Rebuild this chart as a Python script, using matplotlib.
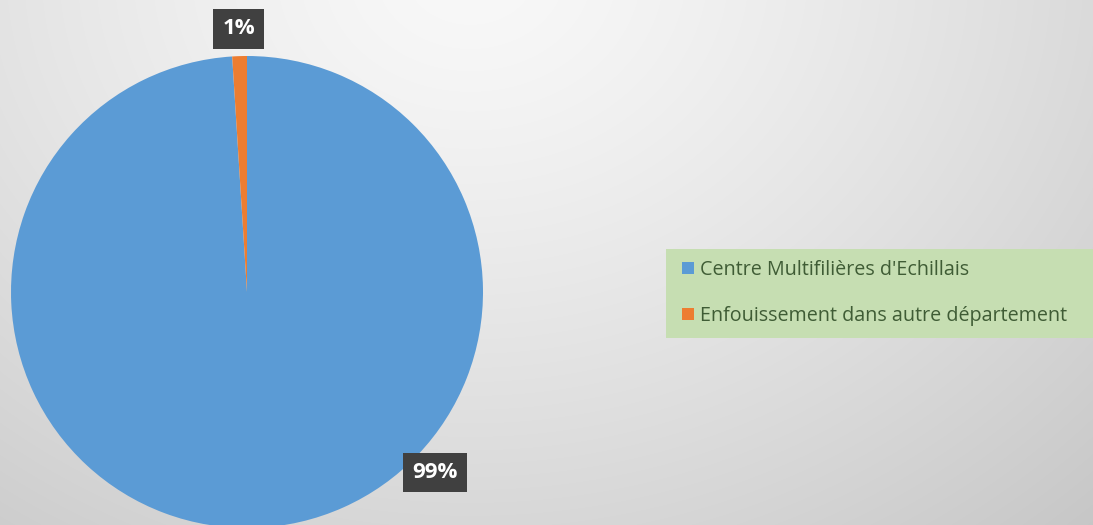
import numpy as np
import matplotlib.pyplot as plt
from matplotlib.patches import Rectangle

labels = ["Centre Multifilières d'Echillais", "Enfouissement dans autre département"]
values = [99, 1]
pct_text = ["99%", "1%"]
colors = ["#5b9bd5", "#ed7d31"]

W, H = 1093, 525
fig = plt.figure(figsize=(W / 100, H / 100), dpi=100)

# radial gray background
bg = fig.add_axes([0, 0, 1, 1])
yy, xx = np.mgrid[0:H, 0:W]
d = np.sqrt(((xx - 470.0) * 0.95) ** 2 + ((yy + 30.0) * 1.15) ** 2)
v = 0.975 - 0.19 * (d / 850.0) ** 1.3
bg.imshow(np.dstack([v, v, v]).clip(0, 1), extent=[0, W, H, 0], aspect="auto")
bg.set_xlim(0, W)
bg.set_ylim(H, 0)
bg.axis("off")

# pie, centre (247, 292) px, radius 236 px
r = 236
cx, cy = 247, 292
ax = fig.add_axes([(cx - r) / W, (H - cy - r) / H, 2 * r / W, 2 * r / H])
wedges, _ = ax.pie(values, colors=colors, startangle=90, counterclock=False,
                   radius=1, wedgeprops=dict(linewidth=0))
ax.set_xlim(-1, 1)
ax.set_ylim(-1, 1)
ax.set_aspect("equal")
ax.axis("off")

# data labels
box = dict(boxstyle="square,pad=0.42", facecolor="#404040", edgecolor="none")
mid = np.deg2rad(90 + 360 * values[1] / sum(values) / 2)
ax.text(1.115 * np.cos(mid), 1.115 * np.sin(mid), pct_text[1], color="white",
        fontsize=16, fontweight="bold", family="Open Sans",
        ha="center", va="center", bbox=box, clip_on=False)
ax.text(0.795, -0.765, pct_text[0], color="white",
        fontsize=16, fontweight="bold", family="Open Sans",
        ha="center", va="center", bbox=box, clip_on=False)

# legend panel
fig.patches.append(Rectangle((666 / W, (H - 338) / H), (W - 666) / W, 89 / H,
                             transform=fig.transFigure, facecolor="#c6deb2",
                             edgecolor="none", zorder=1))
leg = fig.legend(wedges, labels, loc="center left",
                 bbox_to_anchor=(664 / W, (H - 293) / H), frameon=False,
                 prop=dict(family="Open Sans", size=14.2),
                 labelcolor="#3f5c35", handlelength=0.6, handleheight=0.6,
                 handletextpad=0.3, labelspacing=1.3)

fig.savefig("out.png", dpi=100)
